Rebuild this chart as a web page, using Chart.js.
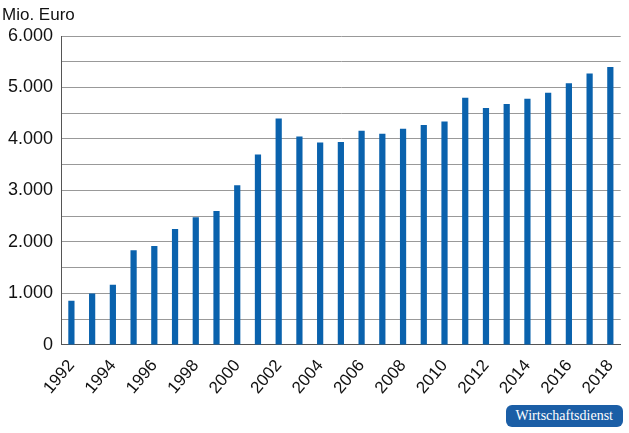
<!DOCTYPE html><html><head><meta charset="utf-8">
<script src="https://cdn.jsdelivr.net/npm/chart.js@4"></script>
<style>html,body{margin:0;padding:0;background:#fff}#w{position:relative;width:629px;height:433px}
#b{position:absolute;right:6px;bottom:6px;background:#1b5ea6;color:#fff;font:14px "Liberation Serif",serif;padding:3px 10px;border-radius:6px}</style></head><body>
<div id="w"><canvas id="c" width="629" height="433"></canvas><div id="b">Wirtschaftsdienst</div></div>
<script>
const years=["1992","1993","1994","1995","1996","1997","1998","1999","2000","2001","2002","2003","2004","2005","2006","2007","2008","2009","2010","2011","2012","2013","2014","2015","2016","2017","2018"];
const values=[860,1000,1170,1840,1920,2250,2480,2600,3100,3700,4400,4050,3930,3940,4160,4100,4200,4270,4340,4800,4600,4680,4780,4900,5080,5270,5400];
const unitLabel="Mio. Euro";
new Chart(document.getElementById('c'),{type:'bar',data:{labels:years,datasets:[{data:values,backgroundColor:'#0a62ad',barPercentage:0.3,categoryPercentage:1}]},
options:{responsive:false,animation:false,layout:{padding:{top:36,right:2,bottom:32,left:0}},plugins:{legend:{display:false},tooltip:{enabled:false}},
scales:{x:{grid:{display:false},border:{color:'#555'},ticks:{color:'#111',font:{family:'Liberation Sans',size:17},maxRotation:50,minRotation:50,autoSkip:false,callback:(v,i)=>i%2?'':years[i]}},
y:{min:0,max:6000,border:{color:'#555'},grid:{color:'#999',drawTicks:false},ticks:{stepSize:250,padding:8,color:'#111',font:{family:'Liberation Sans',size:18},callback:v=>v%1000?'':v.toLocaleString('de-DE')}}}},
plugins:[{id:'t',afterDraw(c){const x=c.ctx;x.save();x.font='17px Liberation Sans';x.fillStyle='#111';x.fillText(unitLabel,2,20);x.restore();}}]});
</script></body></html>
